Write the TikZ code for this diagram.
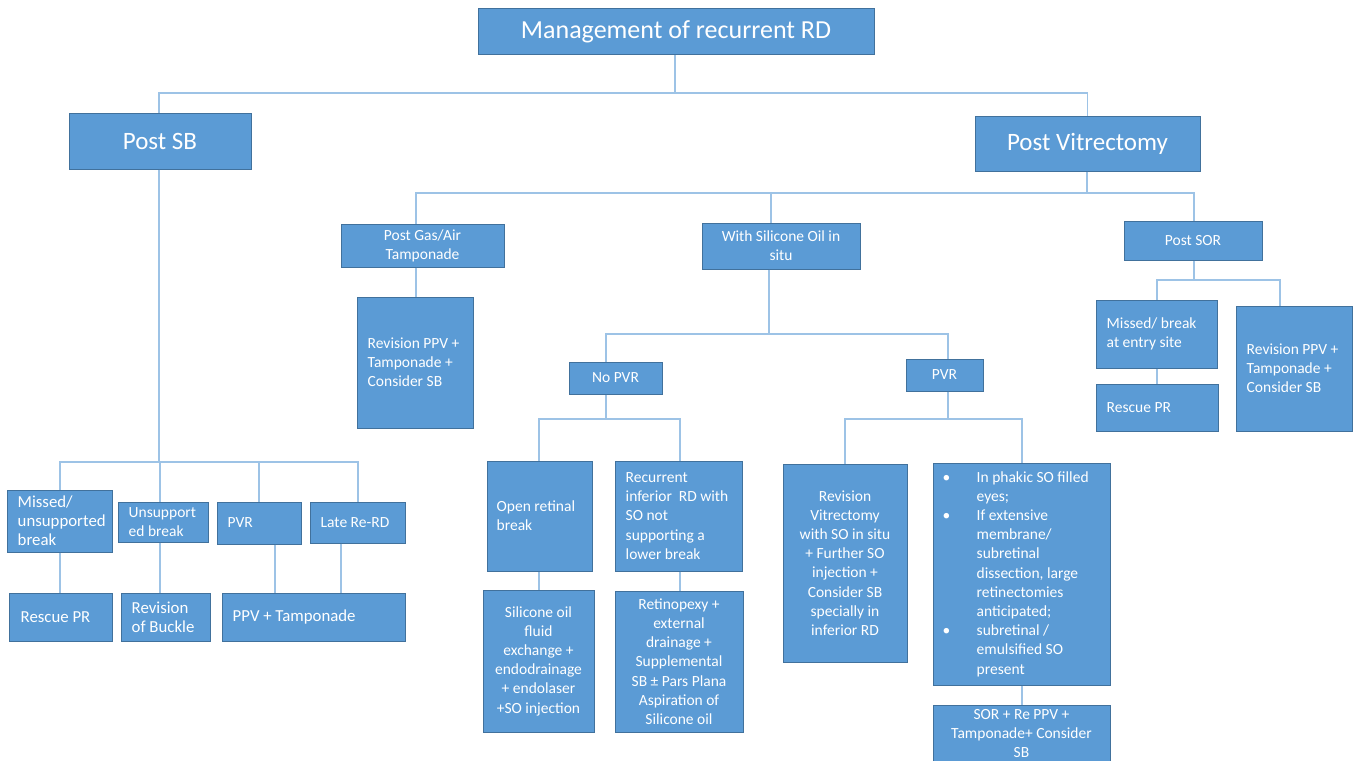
\documentclass[tikz,border=0pt]{standalone}
\usepackage{fontspec}
\setmainfont{Carlito}
\definecolor{boxc}{HTML}{5B9BD5}
\definecolor{bordc}{HTML}{41719C}
\definecolor{linec}{HTML}{9DC3E6}
\newcommand\fsm{\fontsize{15.5}{19.2}\selectfont}
\newcommand\fmd{\fontsize{16.8}{19}\selectfont}
\newcommand\fbig{\fontsize{25}{30}\selectfont}
\newcommand\fttl{\fontsize{26}{31}\selectfont}
\begin{document}
\begin{tikzpicture}[x=1pt,y=-1pt,
  box/.style={draw=bordc, fill=boxc, line width=1pt, inner sep=0pt, text=white, align=center, font=\fsm},
  txt/.style={text=white, align=left, inner sep=0pt, font=\fsm, anchor=west},
  conn/.style={draw=linec, line width=1.2pt}]
\useasboundingbox (0,0) rectangle (1354,760);
\clip (0,0) rectangle (1354,760);
% top level
\node[box, font=\fttl, minimum width=396pt, minimum height=46pt] (title) at (676,32) {Management of recurrent RD};
\node[box, font=\fbig, minimum width=182pt, minimum height=56pt] (postsb) at (160,141) {Post SB};
\node[box, font=\fbig, minimum width=225pt, minimum height=55pt] (postvit) at (1087.5,143.5) {Post Vitrectomy};
% post vitrectomy branch
\node[box, minimum width=163pt, minimum height=43pt] (gas) at (422.5,245.5) {Post Gas/Air\\Tamponade};
\node[box, minimum width=116pt, minimum height=131pt] (revgas) at (415,362.5) {};
\node[txt] (revgas-t) at ([xshift=11pt]revgas.west) {Revision PPV +\\Tamponade +\\Consider SB};
\node[box, minimum width=158pt, minimum height=46pt] (sil) at (781,246) {With Silicone Oil in\\situ};
\node[box, minimum width=93pt, minimum height=32pt] (nopvr) at (615.5,378) {No PVR};
\node[box, minimum width=77pt, minimum height=32pt] (pvr) at (944.5,375) {PVR};
\node[box, minimum width=105pt, minimum height=110pt] (open) at (539.5,516) {};
\node[txt] (open-t) at ([xshift=10pt]open.west) {Open retinal\\break};
\node[box, minimum width=127pt, minimum height=110pt] (recur) at (678.5,516) {};
\node[txt] (recur-t) at ([xshift=11pt]recur.west) {Recurrent\\inferior\ \ RD with\\SO not\\supporting a\\lower break};
\node[box, minimum width=111pt, minimum height=142pt] (silfl) at (538.5,661) {Silicone oil\\fluid\\exchange +\\endodrainage\\+ endolaser\\+SO injection};
\node[box, minimum width=128pt, minimum height=141pt] (retino) at (679,661.5) {Retinopexy +\\external\\drainage +\\Supplemental\\SB ± Pars Plana\\Aspiration of\\Silicone oil};
\node[box, minimum width=124pt, minimum height=198pt] (revvit) at (845,563) {Revision\\Vitrectomy\\with SO in situ\\+ Further SO\\injection +\\Consider SB\\specially in\\inferior RD};
\node[box, minimum width=177pt, minimum height=222pt] (bul) at (1021.5,574) {};
\node[txt] (bul-t) at ([xshift=10pt]bul.west) {%
\makebox[34pt][l]{\textbullet}In phakic SO filled\\
\hspace*{34pt}eyes;\\
\makebox[34pt][l]{\textbullet}If extensive\\
\hspace*{34pt}membrane/\\
\hspace*{34pt}subretinal\\
\hspace*{34pt}dissection, large\\
\hspace*{34pt}retinectomies\\
\hspace*{34pt}anticipated;\\
\makebox[34pt][l]{\textbullet}subretinal /\\
\hspace*{34pt}emulsified SO\\
\hspace*{34pt}present};
\node[box, minimum width=177pt, minimum height=57pt] (sor) at (1021.5,733.5) {SOR + Re PPV +\\Tamponade+ Consider\\SB};
\node[box, minimum width=138pt, minimum height=39pt] (postsor) at (1193,240.5) {Post SOR};
\node[box, minimum width=121pt, minimum height=68pt] (mentry) at (1156.5,334) {};
\node[txt] (mentry-t) at ([xshift=11pt]mentry.west) {Missed/ break\\at entry site};
\node[box, minimum width=122pt, minimum height=47pt] (resc2) at (1157,407.5) {};
\node[txt] (resc2-t) at ([xshift=11pt]resc2.west) {Rescue PR};
\node[box, minimum width=116pt, minimum height=125pt] (revsor) at (1294,368.5) {};
\node[txt] (revsor-t) at ([xshift=11pt]revsor.west) {Revision PPV +\\Tamponade +\\Consider SB};
% post SB branch
\node[box, minimum width=105pt, minimum height=62pt] (missed) at (59.5,521) {};
\node[txt, font=\fmd] (missed-t) at ([xshift=11pt]missed.west) {Missed/\\unsupported\\break};
\node[box, minimum width=90pt, minimum height=40pt] (unsup) at (163,522) {};
\node[txt] (unsup-t) at ([xshift=11pt]unsup.west) {Unsupport\\ed break};
\node[box, minimum width=84pt, minimum height=42pt] (pvrl) at (259,523) {};
\node[txt] (pvrl-t) at ([xshift=11pt]pvrl.west) {PVR};
\node[box, minimum width=95pt, minimum height=41pt] (late) at (357.5,522.5) {};
\node[txt] (late-t) at ([xshift=11pt]late.west) {Late Re-RD};
\node[box, minimum width=103pt, minimum height=48pt] (resc) at (60.5,617) {};
\node[txt, font=\fmd] (resc-t) at ([xshift=12pt]resc.west) {Rescue PR};
\node[box, minimum width=89pt, minimum height=48pt] (buckle) at (165.5,617) {};
\node[txt, font=\fmd] (buckle-t) at ([xshift=11pt]buckle.west) {Revision\\of Buckle};
\node[box, minimum width=183pt, minimum height=48pt] (ppvt) at (313.5,617) {};
\node[txt, font=\fmd] (ppvt-t) at ([xshift=11pt]ppvt.west) {PPV + Tamponade};
% ---------- connectors ----------
\coordinate (j0) at (675,93);
\coordinate (j1) at (1087,193);
\coordinate (j2) at (769,334);
\coordinate (j3) at (606,419);
\coordinate (j4) at (948,419);
\coordinate (j5) at (1194,280);
\coordinate (j6) at (159,462);
\draw[conn] (title.south -| j0) -- (j0);
\draw[conn] (postsb.north -| 159,0) |- (j0) -| (postvit.north);
\draw[conn] (postvit.south -| 1087,0) -- (j1);
\draw[conn] (gas.north -| 416,0) |- (j1) -| (postsor.north -| 1194,0);
\draw[conn] (sil.north -| 771,0) -- (771,193);
\draw[conn] (gas.south -| 416,0) -- (revgas.north -| 416,0);
\draw[conn] (sil.south -| 769,0) -- (j2);
\draw[conn] (nopvr.north -| 606,0) |- (j2) -| (pvr.north -| 948,0);
\draw[conn] (nopvr.south -| 606,0) -- (j3);
\draw[conn] (open.north -| 539,0) |- (j3) -| (recur.north -| 680,0);
\draw[conn] (open.south -| 539,0) -- (silfl.north -| 539,0);
\draw[conn] (recur.south -| 680,0) -- (retino.north -| 680,0);
\draw[conn] (pvr.south -| 948,0) -- (j4);
\draw[conn] (revvit.north) |- (j4) -| (bul.north -| 1022,0);
\draw[conn] (bul.south -| 1022,0) -- (sor.north -| 1022,0);
\draw[conn] (postsor.south -| 1194,0) -- (j5);
\draw[conn] (mentry.north -| 1157,0) |- (j5) -| (revsor.north -| 1280,0);
\draw[conn] (mentry.south -| 1157,0) -- (resc2.north -| 1157,0);
\draw[conn] (postsb.south -| 159,0) -- (j6);
\draw[conn] (missed.north -| 60,0) |- (j6) -| (late.north -| 358,0);
\draw[conn] (pvrl.north) -- (pvrl.north |- j6);
\draw[conn] (unsup.north -| 160,0) -- (160,462);
\draw[conn] (missed.south -| 60,0) -- (resc.north -| 60,0);
\draw[conn] (unsup.south -| 160,0) -- (buckle.north -| 160,0);
\draw[conn] (pvrl.south -| 275,0) -- (ppvt.north -| 275,0);
\draw[conn] (late.south -| 341,0) -- (ppvt.north -| 341,0);
\end{tikzpicture}
\end{document}
